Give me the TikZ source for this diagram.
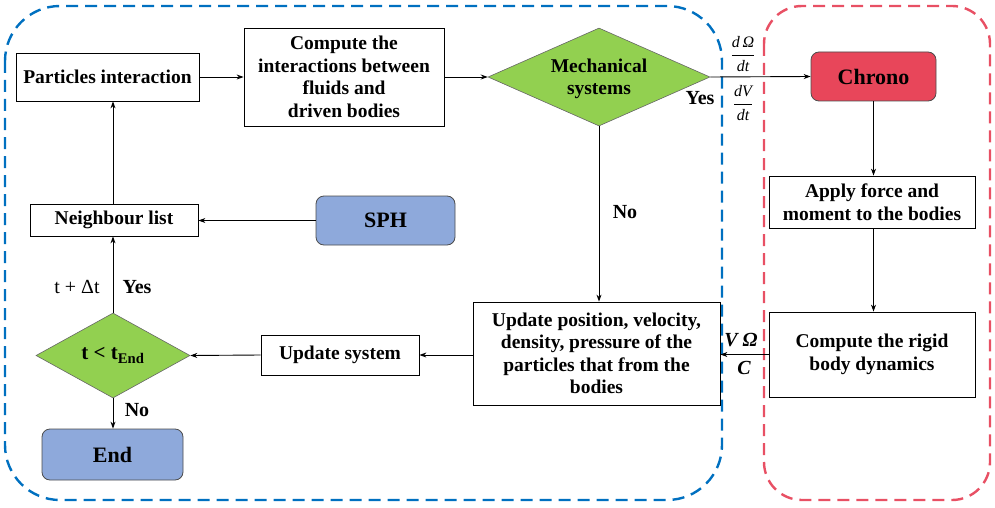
\documentclass[tikz,border=0pt]{standalone}
\usepackage{fontspec}
\setmainfont{Liberation Serif}
\usetikzlibrary{shapes.geometric,arrows.meta}
\definecolor{dgreen}{RGB}{146,208,80}
\definecolor{dblue}{RGB}{142,169,219}
\definecolor{dred}{RGB}{232,70,90}
\definecolor{lblue}{RGB}{0,112,192}
\definecolor{lred}{RGB}{232,80,100}
\tikzset{
  txt/.style={font=\bfseries\fontsize{19.5}{22.5}\selectfont, align=center},
  box/.style={txt, draw=black, line width=0.8pt, fill=white, inner sep=0pt},
  rbox/.style={box, rounded corners=8pt, font=\bfseries\fontsize{22}{24}\selectfont, draw=black!70},
  dia/.style={txt, diamond, draw=black!60, fill=dgreen, inner sep=0pt, line width=0.6pt},
  arr/.style={-{Stealth[length=7pt,width=5pt]}, line width=0.9pt},
  lab/.style={font=\bfseries\fontsize{20}{22}\selectfont},
  frame/.style={line width=2.4pt, dash pattern=on 12pt off 7pt, rounded corners=55pt},
}
\begin{document}
\begin{tikzpicture}[x=1pt,y=-1pt]
\useasboundingbox (0,0) rectangle (995,508);
\draw[frame, lblue] (5,6) rectangle (722,500);
\draw[frame, lred, rounded corners=38pt] (764,6) rectangle (990,500);

\node[box, minimum width=183, minimum height=48] (pi) at (107.5,77) {Particles interaction};
\node[box, minimum width=200, minimum height=98] (ci) at (344,77) {Compute the\\interactions between\\fluids and\\driven bodies};
\node[dia, shape aspect=2.27, minimum width=222, minimum height=98] (ms) at (599,77) {};
\node[txt] (mst) at (599,79) {Mechanical\\systems};
\node[rbox, fill=dred, minimum width=125, minimum height=49] (ch) at (873.5,76.5) {Chrono};
\node[box, minimum width=206, minimum height=52] (af) at (872,202) {Apply force and\\moment to the bodies};
\node[box, minimum width=206, minimum height=85] (rb) at (872,354.5) {Compute the rigid\\body dynamics};
\node[box, minimum width=247, minimum height=103] (up) at (596.5,353.5) {Update position, velocity,\\density, pressure of the\\particles that from the\\bodies};
\node[box, minimum width=158, minimum height=40] (us) at (340,355) {Update system};
\node[dia, shape aspect=1.81, minimum width=154, minimum height=85, font=\bfseries\fontsize{21}{24}\selectfont] (td) at (113,355.5) {t < t\textsubscript{End}};
\node[rbox, fill=dblue, minimum width=141, minimum height=51] (en) at (112.5,454.5) {End};
\node[box, minimum width=168, minimum height=32] (nl) at (114,220) {Neighbour list};
\node[rbox, fill=dblue, minimum width=139, minimum height=49] (sph) at (385.5,220.5) {SPH};

\draw[arr] (pi.east) -- (ci.west);
\draw[arr] (ci.east) -- (ms.west);
\draw[arr] (ms.east) -- (ch.west);
\draw[arr] (ch.south) -- (af.north -| ch.south);
\draw[arr] (af.south -| ch.south) -- (rb.north -| ch.south);
\draw[arr] (rb.west) -- (rb.west -| up.east);
\draw[arr] (ms.south) -- (ms.south |- up.north);
\draw[arr] (up.west |- us.east) -- (us.east);
\draw[arr] (us.west) -- (td.east);
\draw[arr] (td.north) -- (td.north |- nl.south);
\draw[arr] (nl.north -| td.north) -- (pi.south -| td.north);
\draw[arr] (sph.west) -- (sph.west -| nl.east);
\draw[arr] (td.south) -- (en.north -| td.south);

\node[lab] (yes1) at (700,98) {Yes};
\node[lab] (no1) at (625,212) {No};
\node[lab] (yes2) at (137,287) {Yes};
\node[font=\fontsize{20}{22}\selectfont] (dt) at (77,287) {t + Δt};
\node[lab] (no2) at (137,410) {No};
\node[font=\fontsize{16}{18}\selectfont] (f1) at (743,54) {$\displaystyle\frac{\textit{d}\,\textit{Ω}}{\textit{dt}}$};
\node[font=\fontsize{16}{18}\selectfont] (f2) at (743,103) {$\displaystyle\frac{\textit{dV}}{\textit{dt}}$};
\node[font=\bfseries\itshape\fontsize{20}{22}\selectfont] (vo) at (741,340) {V Ω};
\node[font=\bfseries\itshape\fontsize{20}{22}\selectfont] (cc) at (744,368) {C};
\end{tikzpicture}
\end{document}
